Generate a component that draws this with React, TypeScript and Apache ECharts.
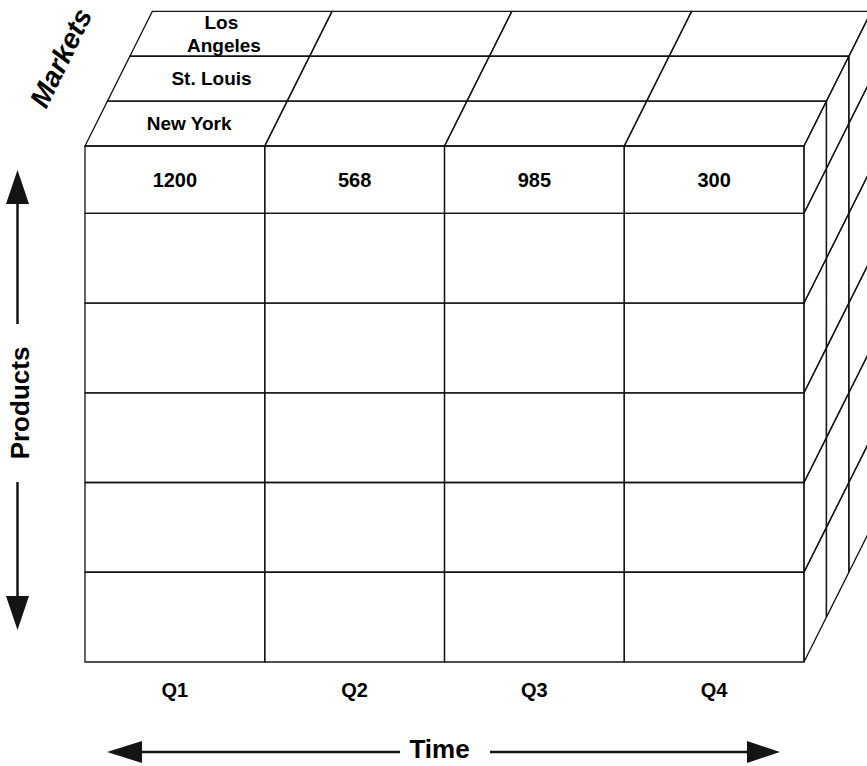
import React, { useEffect, useRef } from "react";
import * as echarts from "echarts";

// ---- data ----
const quarters = ["Q1", "Q2", "Q3", "Q4"];
const markets = ["New York", "St. Louis", "Los Angeles"]; // front to back
const productRows = [0, 1, 2, 3, 4, 5]; // six product rows, bottom to top
const newYorkValues = [1200, 568, 985, 300]; // top product row, per quarter

// ---- layout constants ----
const HEADER_ROW_SPAN = 0.75; // the top product row is shorter
const DEPTH_RATIO = 0.5; // depth of one market layer, in row units
const FONT = "'Liberation Sans', Arial, Helvetica, sans-serif";
const INK = "#141414";
const LW = 1.3;

const rowTop = (r: number) => (r === productRows.length - 1 ? r + HEADER_ROW_SPAN : r + 1);
const yMax = productRows.length - 1 + HEADER_ROW_SPAN;

export default function App() {
  const ref = useRef<HTMLDivElement>(null);
  useEffect(() => {
    if (!ref.current) return;
    const chart = echarts.init(ref.current, undefined, { renderer: "svg" });

    const depth = (api: any) => {
      const unit = api.size([0, 1])[1];
      const dy = unit * DEPTH_RATIO;
      return { dx: dy / 2, dy };
    };
    const lineStyle = { fill: "none", stroke: INK, lineWidth: LW };

    const frontData: number[][] = [];
    productRows.forEach((r) => quarters.forEach((_, q) => frontData.push([q, r])));
    const valueData = newYorkValues.map((v, q) => [q, productRows.length - 1, v]);
    const topData: number[][] = [];
    markets.forEach((_, m) => quarters.forEach((__, q) => topData.push([q, productRows.length - 1, m])));
    const sideData: number[][] = [];
    markets.forEach((_, m) => productRows.forEach((r) => sideData.push([quarters.length - 1, r, m])));

    const option: any = {
      animation: false,
      grid: { left: 85, top: 146, right: 63, bottom: 104 },
      xAxis: {
        type: "category",
        data: quarters,
        boundaryGap: true,
        axisLine: { show: false },
        axisTick: { show: false },
        splitLine: { show: false },
        axisLabel: { color: "#000", fontFamily: FONT, fontWeight: "bold", fontSize: 20, margin: 18 },
      },
      yAxis: { type: "value", min: 0, max: yMax, show: false, splitLine: { show: false } },
      series: [
        {
          type: "custom",
          name: "front",
          data: frontData,
          renderItem: (params: any, api: any) => {
            const q = api.value(0);
            const r = api.value(1);
            const cx = api.coord([q, r])[0];
            const w = api.size([1, 0])[0];
            const yb = api.coord([q, r])[1];
            const yt = api.coord([q, rowTop(r)])[1];
            return {
              type: "rect",
              shape: { x: cx - w / 2, y: yt, width: w, height: yb - yt },
              style: lineStyle,
            };
          },
        },
        {
          type: "custom",
          name: "values",
          data: valueData,
          renderItem: (params: any, api: any) => {
            const q = api.value(0);
            const r = api.value(1);
            const cx = api.coord([q, r])[0];
            const yb = api.coord([q, r])[1];
            const yt = api.coord([q, rowTop(r)])[1];
            return {
              type: "text",
              x: cx,
              y: (yt + yb) / 2,
              style: {
                text: String(api.value(2)),
                align: "center",
                verticalAlign: "middle",
                fill: "#000",
                font: `bold 20px ${FONT}`,
              },
            };
          },
        },
        {
          type: "custom",
          name: "top",
          data: topData,
          renderItem: (params: any, api: any) => {
            const q = api.value(0);
            const r = api.value(1);
            const m = api.value(2);
            const cx = api.coord([q, r])[0];
            const w = api.size([1, 0])[0];
            const T = api.coord([q, rowTop(r)])[1];
            const { dx, dy } = depth(api);
            const L = cx - w / 2;
            const R = cx + w / 2;
            const children: any[] = [
              {
                type: "polygon",
                shape: {
                  points: [
                    [L + m * dx, T - m * dy],
                    [R + m * dx, T - m * dy],
                    [R + (m + 1) * dx, T - (m + 1) * dy],
                    [L + (m + 1) * dx, T - (m + 1) * dy],
                  ],
                },
                style: lineStyle,
              },
            ];
            if (q === 0) {
              children.push({
                type: "text",
                x: cx + (m + 0.5) * dx + 3 - (m === markets.length - 1 ? 10 : 0),
                y: T - (m + 0.5) * dy,
                style: {
                  text: markets[m],
                  width: 100,
                  overflow: "break",
                  lineHeight: 23,
                  align: "center",
                  verticalAlign: "middle",
                  fill: "#000",
                  font: `bold 19px ${FONT}`,
                },
              });
            }
            return { type: "group", children };
          },
        },
        {
          type: "custom",
          name: "side",
          data: sideData,
          renderItem: (params: any, api: any) => {
            const q = api.value(0);
            const r = api.value(1);
            const m = api.value(2);
            const cx = api.coord([q, r])[0];
            const w = api.size([1, 0])[0];
            const R = cx + w / 2;
            const yb = api.coord([q, r])[1];
            const yt = api.coord([q, rowTop(r)])[1];
            const { dx, dy } = depth(api);
            return {
              type: "polygon",
              shape: {
                points: [
                  [R + m * dx, yt - m * dy],
                  [R + (m + 1) * dx, yt - (m + 1) * dy],
                  [R + (m + 1) * dx, yb - (m + 1) * dy],
                  [R + m * dx, yb - m * dy],
                ],
              },
              style: lineStyle,
            };
          },
        },
      ],
      graphic: [
        // Products arrow
        { type: "line", shape: { x1: 17.5, y1: 200, x2: 17.5, y2: 324 }, style: { stroke: INK, lineWidth: 2.5 } },
        { type: "line", shape: { x1: 17.5, y1: 482, x2: 17.5, y2: 600 }, style: { stroke: INK, lineWidth: 2.5 } },
        { type: "polygon", shape: { points: [[17.5, 170], [6, 204], [29, 204]] }, style: { fill: INK } },
        { type: "polygon", shape: { points: [[17.5, 630], [6, 596], [29, 596]] }, style: { fill: INK } },
        {
          type: "text",
          x: 20,
          y: 403,
          rotation: Math.PI / 2,
          style: { text: "Products", align: "center", verticalAlign: "middle", fill: "#000", font: `bold 26px ${FONT}` },
        },
        // Time arrow
        { type: "line", shape: { x1: 140, y1: 752, x2: 400, y2: 752 }, style: { stroke: INK, lineWidth: 2.5 } },
        { type: "line", shape: { x1: 490, y1: 752, x2: 750, y2: 752 }, style: { stroke: INK, lineWidth: 2.5 } },
        { type: "polygon", shape: { points: [[107, 752], [142, 741], [142, 763]] }, style: { fill: INK } },
        { type: "polygon", shape: { points: [[780, 752], [747, 741], [747, 763]] }, style: { fill: INK } },
        {
          type: "text",
          x: 439.5,
          y: 749,
          style: { text: "Time", align: "center", verticalAlign: "middle", fill: "#000", font: `bold 26px ${FONT}` },
        },
        // Markets label
        {
          type: "text",
          x: 61,
          y: 58,
          rotation: (64 * Math.PI) / 180,
          style: {
            text: "Markets",
            align: "center",
            verticalAlign: "middle",
            fill: "#000",
            font: `italic bold 28px ${FONT}`,
          },
        },
      ],
    };
    chart.setOption(option);
    return () => chart.dispose();
  }, []);

  return (
    <div
      ref={ref}
      style={{ position: "absolute", left: 0, top: 0, width: 867, height: 766, background: "#fff" }}
    />
  );
}
